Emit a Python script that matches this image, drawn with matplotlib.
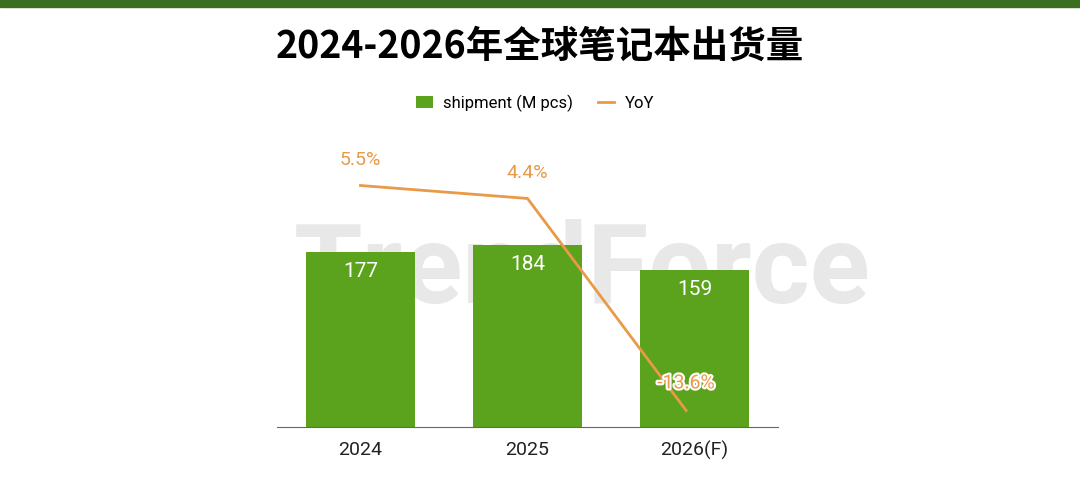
import matplotlib.pyplot as plt
import matplotlib.patheffects as pe

plt.rcParams['font.family'] = ['Roboto', 'Noto Sans CJK SC', 'DejaVu Sans']

years = ["2024", "2025", "2026(F)"]
shipment = [177, 184, 159]
yoy = [5.5, 4.4, -13.6]

bar_green = "#5ba31c"
line_orange = "#e89a48"

fig = plt.figure(figsize=(10.8, 4.99), dpi=100)
fig.patch.set_facecolor("white")

# dark green strip at the very top
fig.patches.append(plt.Rectangle((0, 1 - 7 / 499), 1, 7 / 499, transform=fig.transFigure,
                                 color="#3b6e1f", zorder=0))

fig.text(0.5, 1 - 46 / 499, "2024-2026年全球笔记本出货量", ha="center", va="center",
         fontsize=27, fontweight="bold", family=['Noto Sans CJK SC', 'DejaVu Sans'])

ax = fig.add_axes([277 / 1080, 1 - 427 / 499, 501 / 1080, 297 / 499])
ax.patch.set_alpha(0)

# watermark, behind the bars
ax.text(582 / 1080, 1 - 272 / 499, "TrendForce", transform=fig.transFigure, ha="center",
        va="center", fontsize=80, fontweight="bold", color="#e8e8e8", zorder=1,
        clip_on=False)

x = range(len(years))
bars = ax.bar(x, shipment, width=0.65, color=bar_green, label="shipment (M pcs)", zorder=2)
ax.set_xlim(-0.5, 2.5)
ax.set_ylim(0, 300)
for b, v in zip(bars, shipment):
    ax.text(b.get_x() + b.get_width() / 2, v - 20, str(v), ha="center", va="center",
            color="white", fontsize=15, zorder=3)

ax.set_xticks(list(x))
ax.set_xticklabels(years, fontsize=14, color="#222222")
ax.tick_params(axis="x", length=0, pad=10)
ax.set_yticks([])
for s in ["top", "right", "left"]:
    ax.spines[s].set_visible(False)
ax.spines["bottom"].set_color("#666666")

ax2 = ax.twinx()
ax2.set_ylim(-15, 297 / 11.78 - 15)
line, = ax2.plot([0, 1, 1.95], yoy, color=line_orange, linewidth=2, label="YoY", zorder=4)
ax2.set_yticks([])
for s in ["top", "right", "left", "bottom"]:
    ax2.spines[s].set_visible(False)
offsets = [2.2, 2.2, 2.3]
for xi, v, off in zip([0, 1, 1.95], yoy, offsets):
    t = ax2.text(xi, v + off, f"{v}%", ha="center", va="center", color=line_orange,
                 fontsize=14, zorder=5)
    if v < 0:
        t.set_path_effects([pe.withStroke(linewidth=3, foreground="white")])

fig.legend(handles=[bars, line], loc="center", bbox_to_anchor=(535 / 1080, 1 - 103 / 499),
           ncol=2, frameon=False, fontsize=12, handlelength=1.0, columnspacing=1.5,
           handletextpad=0.6)

fig.savefig("out.png", dpi=100)
